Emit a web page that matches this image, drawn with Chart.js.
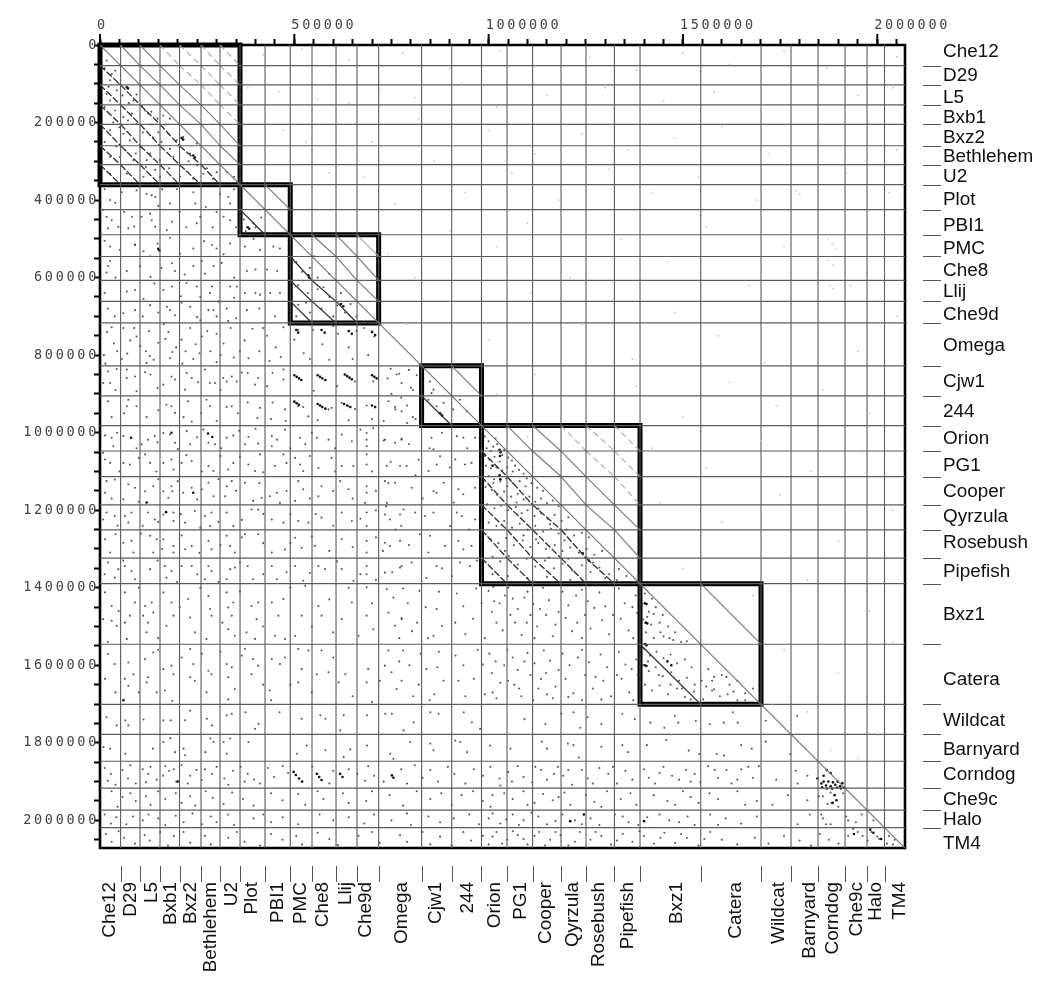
<!DOCTYPE html>
<html>
<head>
<meta charset="utf-8">
<title>Dot plot</title>
<script src="https://cdn.jsdelivr.net/npm/chart.js@4"></script>
<style>
  body { margin: 0; background: #fff; }
  canvas { display: block; }
</style>
</head>
<body>
<canvas id="chart" width="1050" height="983"></canvas>
<script>
const genomes = ["Che12","D29","L5","Bxb1","Bxz2","Bethlehem","U2","Plot","PBI1","PMC","Che8","Llij","Che9d","Omega","Cjw1","244","Orion","PG1","Cooper","Qyrzula","Rosebush","Pipefish","Bxz1","Catera","Wildcat","Barnyard","Corndog","Che9c","Halo","TM4"]

// end of each genome along the concatenated sequence, in bp
const genomeEnds = [53000,102900,154400,204600,259900,308800,360300,424600,489500,545500,607300,661300,717000,827500,905000,981600,1047300,1113100,1186200,1250500,1323600,1389500,1545700,1700800,1778000,1847500,1917000,1973600,2018600,2071300]

// first and last genome index of each boxed cluster
const clusters = [[0,6],[7,8],[9,12],[14,15],[16,21],[22,23]]

const xTickStep = 50000
const yTickStep = 50000
const xLabelEvery = 500000
const yLabelEvery = 200000

// the dots below are flat x,y pairs in kb
const dotsClusterA = [17,40,39,66,26,91,43,117,69,109,86,143,116,169,124,177,163,182,180,190,82,177,17,126,26,143,39,169,60,186,94,203,26,220,60,229,77,246,103,263,129,280,176,229,197,246,214,237,249,254,26,289,51,289,86,297,120,297,154,297,189,289,232,280,300,328,326,328,266,332,26,332,69,332,112,340,154,340,206,340,12,60,30,75,48,100,22,108,58,130,74,150,94,128,108,158,132,172,148,190,170,205,12,160,34,200,50,212,72,195,110,225,136,238,158,250,180,268,205,262,228,300,250,310,275,318,12,250,42,262,66,272,92,280,118,315,142,322,178,318,240,345,290,345,345,340,130,205,150,225]
const dotsClusterBCD = [380,470,370,450,400,470,415,445,375,480,395,460,505,560,520,585,540,575,560,600,590,590,510,620,535,640,560,630,590,650,620,640,510,670,540,690,570,680,600,700,630,690,660,700,505,700,530,665,550,545,575,625,610,672,645,668,849,868,858,889,845,915,866,932,884,923,909,940,926,915,944,945,875,949,853,898,776,872,800,884,805,890,775,910,790,930,805,960,812,965,790,975,740,860,750,900,760,940,730,970,748,835,770,848,815,852,795,838]
const dotsPlotRows = [26,400,39,407,17,443,30,452,21,473,47,469,73,473,82,443,94,375,120,384,133,388,142,392,107,443,129,435,133,452,142,469,180,409,185,456,172,478,245,409,249,460,258,443,309,384,330,392,335,409,318,443,335,452,12,372,160,372,205,430,240,380,290,470,350,470,62,430,272,418,8,425,56,380,88,468,150,415,198,372,222,470,300,430,345,372]
const dotsPmcRows = [26,520,90,515,180,497,240,525,288,516,300,525,335,512,373,520,412,529,446,520,463,525,51,529,90,516,21,570,26,557,17,587,69,583,103,570,129,545,185,563,193,583,240,570,262,557,292,570,313,562,378,583,400,579,430,579,456,583,69,636,90,632,163,632,185,623,223,614,249,623,288,623,283,640,335,623,352,623,373,640,412,644,438,640,463,640,60,692,90,684,129,671,172,675,193,697,232,675,279,684,292,684,326,680,378,684,180,684,258,710,38,700,330,712,12,505,112,532,148,512,206,538,268,506,318,540,40,600,130,598,158,575,218,592,270,590,345,600,395,500,12,640,112,655,140,615,208,648,258,650,305,662,345,652,400,640,20,680,110,700,150,690,210,665,250,702,300,700,350,705,410,680,450,700]
const dotsOmegaRows = [18,740,36,770,10,800,60,730,78,762,56,810,94,752,118,790,126,738,150,768,138,812,176,740,196,780,210,760,180,808,232,730,246,772,262,752,240,810,284,790,300,745,318,770,336,730,344,806,372,762,392,732,410,790,430,750,452,780,436,815,472,728,500,760,524,795,548,735,572,772,590,812,612,745,640,780,660,738,690,800,706,752,14,822,120,820,212,822,300,818,30,728,44,790,70,796,88,730,104,776,128,802,164,720,168,758,186,792,220,790,256,795,276,738,310,800,360,790,382,808,420,730,465,805,510,735,540,810,600,725,650,810,680,730]
const dotsCjwRows = [20,842,43,836,8,872,26,872,69,837,69,859,90,855,94,893,116,844,184,855,193,863,163,876,223,846,236,859,219,889,270,837,283,872,296,872,326,868,339,855,352,868,317,859,380,846,407,859,399,876,444,846,472,837,472,863,656,868,703,868,763,850,20,919,73,915,94,932,69,932,184,932,171,928,193,949,227,919,274,915,283,932,326,934,339,932,380,922,412,936,444,922,476,940,510,932,523,934,536,958,570,932,588,940,596,936,622,923,639,932,656,939,686,930,742,919,759,934,776,945,120,960,236,972,405,962,560,968,700,965,40,890,130,850,148,885,252,870,310,890,365,845,430,880,550,892,610,880,30,960,62,950,150,942,215,960,260,950,300,970,355,950,440,965,478,970,640,968]
const dotsOrionRows = [13,1007,30,1013,34,1035,60,1009,107,1030,124,1018,141,1009,163,1001,180,1005,193,1026,223,996,232,1030,266,992,279,1026,296,1030,326,1013,343,1007,373,1030,382,1011,407,1028,442,1009,455,1018,476,992,442,1035,515,1013,528,1030,558,1013,588,1018,622,1005,648,1022,686,1001,686,1018,686,1035,703,988,733,1018,759,1026,776,1016,13,1069,26,1078,8,1052,60,1078,77,1082,116,1056,129,1078,163,1078,184,1069,189,1095,210,1078,236,1073,279,1086,292,1099,330,1095,343,1078,382,1082,412,1056,399,1099,450,1086,472,1056,502,1065,515,1082,523,1099,562,1091,596,1065,622,1086,652,1086,686,1056,686,1082,738,1086,772,1086,44,1000,94,1040,148,1025,200,1042,250,1012,312,1040,358,995,400,990,490,1040,545,1000,605,1040,670,992,50,1100,100,1065,145,1100,222,1058,262,1100,310,1060,360,1062,420,1102,480,1078,540,1060,605,1100,700,1100]
const dotsCooperRows = [17,1125,38,1121,13,1155,60,1172,73,1133,90,1142,116,1151,137,1138,163,1151,184,1138,186,1151,176,1168,214,1155,236,1142,262,1146,279,1129,292,1164,326,1138,339,1125,322,1164,373,1129,394,1176,416,1168,437,1164,455,1155,463,1181,510,1125,523,1146,502,1176,570,1138,562,1164,618,1125,639,1146,686,1138,686,1155,682,1181,733,1125,759,1129,738,1181,17,1206,8,1224,38,1215,64,1215,81,1206,73,1232,124,1206,141,1224,163,1211,189,1206,189,1228,219,1232,244,1202,270,1215,287,1206,283,1241,326,1206,343,1241,390,1198,407,1198,442,1224,472,1232,510,1228,536,1232,570,1219,622,1206,648,1228,686,1206,686,1241,733,1211,746,1224,772,1211,30,1170,100,1178,150,1120,200,1125,250,1172,305,1120,350,1150,410,1130,480,1150,540,1170,600,1150,650,1170,710,1150,45,1240,110,1240,150,1230,208,1210,258,1245,305,1230,365,1225,420,1210,490,1210,555,1210,600,1240,670,1222,710,1200]
const dotsRosebushRows = [13,1275,26,1309,60,1284,81,1279,86,1309,129,1266,146,1275,137,1309,163,1275,189,1292,189,1309,219,1301,236,1292,279,1279,287,1301,326,1266,335,1292,347,1309,373,1262,407,1262,442,1309,476,1301,502,1271,519,1297,553,1292,622,1275,686,1279,686,1309,733,1284,746,1292,772,1279,21,1335,47,1352,38,1374,64,1344,81,1357,90,1378,129,1352,167,1344,184,1357,171,1374,210,1344,236,1344,279,1344,287,1357,270,1378,335,1352,347,1348,326,1378,380,1344,394,1378,442,1344,455,1378,502,1344,523,1382,562,1344,579,1352,622,1352,652,1382,686,1344,686,1365,733,1361,772,1348,40,1262,105,1260,160,1300,210,1265,256,1310,310,1290,365,1270,420,1285,490,1285,545,1268,590,1305,650,1295,710,1270,12,1365,60,1330,148,1330,198,1385,250,1365,305,1385,360,1335,420,1365,480,1360,540,1362,610,1332,670,1365,710,1380]
const dotsBxz1Row = [13,1412,30,1447,8,1481,30,1485,43,1498,64,1412,90,1438,77,1472,64,1490,69,1532,116,1447,133,1438,111,1472,124,1490,137,1464,120,1515,163,1412,184,1438,189,1472,171,1498,227,1429,232,1477,244,1515,279,1421,283,1455,287,1472,274,1532,326,1412,330,1451,343,1438,339,1472,330,1507,347,1524,390,1447,407,1438,403,1481,377,1515,399,1532,442,1438,472,1429,459,1472,450,1524,476,1532,528,1395,519,1472,502,1524,570,1472,562,1447,600,1515,648,1438,622,1481,665,1524,686,1399,686,1472,703,1507,738,1404,755,1425,742,1464,759,1498,776,1481,20,1540,48,1460,100,1400,150,1530,205,1450,258,1400,315,1490,360,1410,420,1500,490,1400,545,1500,590,1430,640,1400,700,1440,770,1530]
const dotsCateraRow = [21,1571,38,1597,13,1635,73,1593,64,1635,86,1623,73,1653,116,1584,137,1567,124,1631,120,1644,146,1670,163,1610,184,1601,189,1623,167,1665,232,1558,240,1597,232,1631,244,1640,279,1614,287,1623,274,1670,326,1597,339,1605,330,1631,347,1661,373,1558,394,1584,407,1601,390,1623,442,1584,463,1597,476,1580,437,1665,510,1558,536,1562,519,1610,510,1644,570,1562,558,1623,588,1618,631,1623,614,1644,690,1610,686,1644,742,1562,733,1601,750,1618,763,1661,330,1688,60,1690,186,1692,440,1690,700,1695,40,1670,100,1670,150,1560,210,1580,262,1570,310,1565,365,1575,420,1650,490,1650,545,1670,600,1580,650,1680,720,1640,770,1590]
const dotsClusterERows = [776,1018,789,1086,802,1142,781,1198,811,1206,853,1013,858,1043,866,1082,845,1099,858,1151,866,1155,836,1215,858,1206,849,1266,845,1309,866,1344,776,1344,802,1335,918,1009,935,1013,914,1069,939,1082,922,1146,935,1159,918,1206,931,1215,922,1279,935,1301,926,1335,965,1013,956,1078,965,1142,965,1224,956,1292,952,1344,875,1061,884,1129,888,1292,901,1241,823,1262,730,1020,748,1075,742,1130,736,1190,760,1250,728,1305,752,1360,795,1030,812,1110,830,1170,848,1040,880,1000,900,1090,945,1040,910,1180,950,1250,880,1350,795,1290,775,1240,820,1070,970,1330,905,1370,840,1375]
const dotsClusterE = [990,1010,1000,1022,995,1040,1005,1048,1012,1036,1022,1030,1030,1052,990,1060,1002,1070,1015,1062,1028,1075,1040,1045,1050,1064,1060,1072,993,1085,1006,1092,1020,1090,1035,1098,1048,1090,1062,1100,1078,1096,1090,1106,1000,1112,1014,1120,1030,1125,1045,1118,1062,1130,1080,1125,1095,1138,1110,1130,1125,1142,1140,1150,992,1140,1008,1148,1022,1160,1040,1152,1058,1165,1075,1158,1090,1172,1105,1165,1120,1178,1135,1170,1150,1182,1165,1175,1180,1190,996,1185,1015,1195,1032,1188,1050,1200,1070,1192,1085,1208,1100,1200,1118,1215,1135,1208,1152,1222,1170,1212,1188,1228,1205,1218,1000,1232,1020,1240,1040,1228,1060,1245,1080,1235,1100,1250,1120,1240,1140,1255,1160,1248,1180,1260,1200,1250,1220,1265,1240,1258,1258,1270,1005,1275,1025,1285,1045,1272,1065,1290,1088,1278,1108,1295,1128,1285,1148,1300,1170,1290,1190,1305,1210,1296,1232,1310,1252,1300,1272,1315,1292,1305,1010,1320,1030,1332,1052,1318,1075,1340,1098,1325,1120,1345,1145,1330,1168,1350,1190,1338,1215,1355,1240,1342,1262,1360,1285,1348,1310,1365,1335,1352,1355,1370,1018,1015,1035,1058,1068,1085,1098,1118,1012,1130,1048,1138,1072,1180,1128,1196,1158,1236,1090,1265,1122,1275,1195,1278,1042,1305,1155,1322,1205,1325,1268,1335,1300,1375,1330,1380,1100,1375,1050,1370,1010,1365,1150,1372,1210,1380,1260,1385]
const dotsBelowE = [780,1402,792,1440,776,1478,803,1512,822,1408,838,1450,816,1490,844,1530,872,1410,866,1455,880,1498,858,1524,918,1415,935,1448,914,1490,940,1520,968,1402,982,1440,960,1480,990,1530,1000,1408,1014,1435,1008,1462,1028,1440,1020,1490,1036,1510,1050,1400,1062,1428,1075,1455,1068,1490,1085,1522,1100,1410,1115,1442,1108,1470,1125,1500,1118,1530,1140,1400,1155,1432,1148,1470,1172,1495,1165,1525,1190,1410,1205,1445,1198,1478,1215,1512,1240,1405,1255,1435,1248,1470,1262,1505,1240,1530,1285,1412,1300,1448,1292,1484,1310,1520,1335,1402,1350,1440,1340,1480,1360,1510,1378,1420,1382,1465,1372,1530,780,1562,796,1600,776,1640,806,1680,825,1570,840,1610,820,1650,848,1690,872,1565,868,1605,884,1640,860,1675,915,1575,935,1600,922,1640,940,1680,972,1560,985,1598,962,1635,990,1675,1002,1570,1018,1590,1008,1620,1030,1645,1020,1685,1048,1560,1062,1580,1075,1612,1066,1650,1084,1680,1100,1568,1118,1595,1108,1625,1128,1660,1115,1690,1142,1562,1158,1588,1148,1620,1172,1655,1165,1685,1190,1570,1208,1600,1198,1635,1218,1672,1240,1560,1258,1592,1248,1625,1268,1660,1240,1690,1288,1572,1305,1605,1295,1640,1315,1680,1335,1565,1352,1598,1342,1635,1362,1670,1380,1585,1384,1625,1372,1690,1012,1398,1042,1420,1056,1470,1092,1425,1098,1490,1132,1455,1180,1462,1225,1420,1228,1490,1272,1452,1320,1470,1370,1450,1040,1600,1050,1640,1092,1590,1135,1635,1180,1612,1230,1580,1275,1630,1330,1625,1368,1610,1010,1670,1078,1660,1150,1675,1205,1682,1290,1688]
const dotsClusterF = [1402,1415,1420,1428,1395,1442,1412,1462,1430,1450,1448,1470,1398,1482,1418,1495,1440,1490,1462,1500,1480,1515,1405,1515,1425,1530,1450,1525,1475,1535,1495,1540,1400,1558,1415,1575,1432,1565,1450,1582,1468,1572,1485,1595,1505,1585,1522,1605,1398,1600,1412,1615,1430,1605,1448,1628,1470,1618,1490,1640,1510,1632,1530,1650,1548,1640,1402,1650,1420,1665,1440,1652,1462,1675,1485,1660,1505,1682,1528,1668,1552,1688,1565,1610,1580,1630,1600,1625,1620,1650,1640,1640,1660,1672,1680,1660,1575,1665,1595,1680,1615,1675,1640,1690,1560,1655,1408,1475,1425,1468,1442,1515,1465,1530,1510,1538,1410,1590,1438,1625,1468,1650,1498,1660,1520,1688,1580,1662,1612,1630,1630,1668,1660,1690,1575,1640]
const dotsWildcatRows = [17,1734,43,1755,65,1742,73,1755,112,1740,163,1742,182,1742,219,1742,232,1717,275,1738,288,1755,326,1729,339,1725,374,1721,408,1751,399,1764,462,1721,519,1738,567,1729,580,1738,627,1729,618,1768,687,1729,734,1725,751,1725,807,1747,781,1768,850,1721,871,1725,936,1721,957,1747,978,1764,1092,1739,1146,1752,1187,1725,1218,1721,1236,1761,1254,1734,1290,1752,1344,1725,1376,1739,1416,1748,1452,1761,1488,1748,1479,1730,1533,1743,1569,1752,1605,1748,1628,1721,1641,1748,1713,1743,1794,1730,9,1811,26,1815,65,1828,136,1815,163,1798,181,1788,193,1824,215,1815,219,1832,284,1789,271,1824,292,1798,318,1798,335,1789,326,1828,382,1798,532,1807,507,1828,580,1819,627,1837,644,1817,687,1807,747,1828,755,1841,798,1798,850,1802,858,1819,914,1794,927,1798,944,1824,1004,1807,1056,1815,1137,1797,1150,1815,1204,1802,1218,1806,1232,1838,1290,1810,1344,1806,1358,1824,1407,1806,1457,1793,1515,1820,1542,1829,1587,1829,1605,1833,1650,1806,1677,1815,1713,1797,1776,1829]
const dotsCorndogRow = [12,1865,28,1880,20,1898,40,1908,58,1870,78,1858,72,1892,92,1905,110,1868,124,1880,130,1862,118,1902,146,1895,168,1860,162,1885,178,1872,196,1900,190,1868,210,1858,232,1885,226,1905,248,1870,270,1868,262,1896,288,1880,300,1862,320,1892,342,1872,330,1908,362,1862,380,1880,396,1895,372,1900,432,1865,448,1888,412,1905,470,1860,484,1878,546,1862,600,1872,590,1905,640,1868,662,1880,690,1860,682,1898,705,1885,730,1900,775,1868,790,1905,810,1858,830,1890,850,1870,870,1900,895,1862,912,1880,940,1905,962,1868,985,1885,1005,1862,1028,1892,1050,1875,1075,1860,1090,1888,1112,1902,1135,1870,1150,1895,1178,1862,1192,1885,1215,1908,1240,1870,1255,1892,1285,1865,1308,1880,1330,1905,1352,1872,1400,1868,1412,1890,1428,1905,1450,1862,1472,1885,1490,1895,1508,1870,1530,1880,1545,1902,1565,1860,1590,1890,1612,1870,1625,1905,1650,1868,1680,1890,1695,1860,1740,1895,1790,1872,1795,1905,1030,1910,1060,1900,1120,1862,1168,1880,1205,1870,1268,1905,1320,1862,1370,1895,1440,1878,1520,1900,1582,1870,1640,1895,1668,1862,1820,1885]
const dotsChe9cRow = [30,1925,58,1940,45,1965,78,1930,92,1950,118,1938,130,1960,150,1925,168,1945,195,1930,210,1955,232,1938,245,1962,272,1925,290,1942,318,1958,340,1928,368,1945,395,1962,440,1930,470,1948,510,1932,528,1960,560,1925,575,1945,625,1930,640,1955,685,1950,700,1925,745,1935,780,1962,815,1925,850,1945,878,1930,905,1960,930,1935,960,1925,985,1950,1005,1965,1040,1930,1062,1945,1090,1925,1118,1955,1140,1932,1165,1948,1195,1928,1210,1960,1250,1935,1272,1952,1305,1925,1340,1945,1380,1960,1425,1935,1460,1950,1500,1925,1540,1955,1568,1930,1590,1945,1640,1925,1690,1950,1730,1960,1770,1935,1820,1948,1860,1938,1872,1958,1880,1928,1010,1935,1100,1960,1180,1940,1290,1965,1365,1930,1480,1960,1520,1940,1660,1960]
const dotsHaloRow = [12,1985,42,1992,28,2008,85,1990,68,2010,110,2000,125,1985,150,1995,168,2012,195,1988,215,2005,238,1982,262,2010,285,1990,300,2005,330,1985,345,2012,395,1995,420,1985,440,2005,470,1992,510,2010,565,1985,600,2000,640,1992,680,2008,705,1985,750,2000,790,1982,800,2012,845,1990,875,2005,910,1995,950,1985,975,2010,1000,1995,1030,2008,1062,1985,1090,2000,1128,1990,1150,2010,1190,1985,1222,2000,1262,1995,1285,2012,1325,1985,1360,2005,1408,1992,1440,1985,1490,2005,1530,2012,1570,1985,1610,1995,1650,2008,1690,1990,1795,2010,1826,1985,1860,1995,1880,2010,1920,1990,1945,2005,1960,1985,1010,1982,1045,1998,1078,2012,1110,1980,1172,2002,1240,2010,1345,1990,1385,2012,1465,2000,1512,1990,1590,2012]
const dotsTm4Row = [15,2035,30,2055,48,2028,62,2045,90,2060,115,2038,128,2052,155,2030,175,2065,190,2040,215,2030,232,2058,270,2040,285,2062,330,2045,352,2030,372,2055,412,2065,440,2035,470,2050,505,2040,520,2062,560,2032,590,2048,612,2064,665,2040,700,2030,720,2058,772,2038,790,2055,830,2030,850,2062,875,2042,905,2065,935,2030,955,2052,985,2040,1000,2062,1020,2030,1048,2050,1075,2038,1100,2062,1130,2030,1158,2050,1185,2038,1205,2065,1235,2030,1262,2050,1290,2040,1315,2062,1345,2035,1370,2055,1400,2040,1425,2060,1452,2032,1480,2058,1510,2045,1540,2065,1570,2030,1600,2050,1640,2062,1685,2045,1720,2060,1760,2040,1800,2052,1830,2065,1852,2035,1875,2050,1900,2060,1925,2040,1950,2030,1975,2052,2000,2042,2025,2060,2045,2050,1010,2042,1035,2060,1062,2028,1090,2048,1118,2040,1145,2065,1172,2030,1222,2055,1275,2030,1330,2052,1388,2028,1442,2045,1495,2035,1555,2048]
const dotsTail = [1850,1938,1856,1985,1868,2010,1882,1955,1900,1965,1912,1930,1925,2000,1938,2022,1962,2040,1985,2030,1990,2000,2005,2048,2030,2040,2040,2062]

// darker short pieces
const darkDots = [500,852,506,856,512,860,518,864,560,852,566,856,572,860,580,864,630,850,636,854,642,858,648,862,700,852,706,856,712,860,500,920,506,924,512,928,560,926,566,930,572,934,580,938,628,926,636,930,644,934,700,930,708,934,184,1000,278,1002,80,1013,289,1011,150,526,153,530,240,1155,170,1205,120,1180,60,1690,200,1900,498,1875,504,1883,512,1892,520,1900,558,1880,564,1888,570,1896,618,1880,624,1888,751,1884,755,1890,1028,1044,1031,1050,1029,1060,1028,1110,1030,1120,1010,1085,1242,1311,1250,1322,1258,1330,1402,1440,1406,1442,1404,1490,1408,1492,1402,1545,1406,1548,1402,1600,1406,1602,1460,1590,1470,1600,1856,1905,1862,1900,1868,1910,1874,1900,1880,1912,1886,1902,1892,1908,1898,1900,1904,1912,1910,1904,1914,1915,1858,1915,1870,1918,1884,1918,1896,1916,1906,1918,1862,1885,1880,1878,1846,1892,1870,1870,1890,1935,1895,1948,1885,1955,1940,2035,1982,2024,1990,2032,2010,2048,1210,2002,1245,1985,1400,2002,69,109,72,112,240,285,244,290,210,240,214,244,536,594,538,600,380,470,384,474,620,668,626,674,505,735,510,742,570,735,578,742,640,738,648,745,700,740,708,748,875,950,880,955]
// the very pale dots above the diagonal
const faintDots = [420,25,520,10,640,40,780,20,900,60,1030,15,1120,55,1260,30,1380,65,1500,20,1620,50,1760,15,1870,60,1975,40,2050,30,380,110,460,120,560,140,640,150,720,115,810,135,930,100,1020,160,1150,130,1300,110,1450,145,1580,120,1700,160,1850,100,1950,130,2040,110,470,220,530,250,610,200,700,250,820,190,910,260,1000,220,1120,280,1240,230,1360,270,1480,240,1600,210,1720,280,1850,240,1980,200,2050,270,590,330,680,340,760,410,860,300,940,380,1060,330,1180,400,1310,320,1420,380,1540,340,1690,400,1790,375,1800,385,1920,330,2030,380,660,470,740,540,810,600,900,480,1020,520,1100,460,1210,600,1340,500,1460,560,1560,470,1670,620,1760,520,1874,500,1884,512,1895,525,1874,555,1887,568,1878,620,1886,628,1931,620,2020,590,790,720,900,660,1000,760,1110,640,1240,720,1370,810,1480,690,1590,750,1710,820,1850,710,1950,790,2050,700,1020,900,1120,850,1250,940,1380,880,1500,960,1620,870,1740,930,1860,890,1980,950,1100,1010,1420,1040,1560,1090,1700,1020,1830,1100,1960,1050,1440,1180,1600,1230,1750,1160,1900,1280,2040,1200,1500,1350,1680,1420,1820,1380,1980,1460,1760,1560,1900,1620,2040,1540,1820,1720,2000,1780,1950,1840,1880,1820]

const lowerDots = [dotsClusterA,dotsClusterBCD,dotsPlotRows,dotsPmcRows,dotsOmegaRows,dotsCjwRows,dotsOrionRows,dotsCooperRows,dotsRosebushRows,dotsBxz1Row,dotsCateraRow,dotsClusterERows,dotsClusterE,dotsBelowE,dotsClusterF,dotsWildcatRows,dotsCorndogRow,dotsChe9cRow,dotsHaloRow,dotsTm4Row,dotsTail].flat()

const nameNudgeY = [-3,1,3,3,3,2,2,2.5,4,3,2,1,3,1,1,1,1,2,1,-1,-1,1,1,5,1,2,0,1,1,6]
const nameNudgeX = [-1,1,2,1,1,0,2,-.5,.5,0,-1,-.5,-2,1.5,-1,1,1,1,-1,-.5,-1,1,6,5,3,5.5,1.5,1,0,5]

const axisEnd = genomeEnds[genomeEnds.length - 1]
const genomeStart = i => i === 0 ? 0 : genomeEnds[i - 1]

function toPoints(flat) {
  const pts = []
  for (let i = 0; i < flat.length; i += 2) pts.push({ x: flat[i] * 1000, y: flat[i + 1] * 1000 })
  return pts
}

function lineSet(points, color, width, extra) {
  return Object.assign({ data: points, showLine: true, pointRadius: 0, borderColor: color, borderWidth: width }, extra)
}

function dotSet(flat, color, radius) {
  return { data: toPoints(flat), pointRadius: radius, pointBorderWidth: 0, backgroundColor: color, showLine: false }
}

// a stepSize close to the range makes Chart.js stretch the spacing, so the ticks are set here
function stepTicks(step) {
  return scale => {
    scale.ticks = []
    for (let v = 0; v <= axisEnd; v += step) scale.ticks.push({ value: v })
  }
}

const datasets = []

// faint ones go under everything else
datasets.push(dotSet(faintDots, "#c4c4c4", 0.9))

// genome boundaries
genomeEnds.slice(0, -1).forEach(end => {
  datasets.push(lineSet([{ x: end, y: 0 }, { x: end, y: axisEnd }], "#5c5c5c", 1.1))
  datasets.push(lineSet([{ x: 0, y: end }, { x: axisEnd, y: end }], "#5c5c5c", 1.2))
})

datasets.push(lineSet([{ x: 0, y: 0 }, { x: axisEnd, y: axisEnd }], "#777", 1.2))

// homology lines between genomes of the same cluster, corner to corner of each cell
clusters.forEach(([first, last], c) => {
  for (let col = first; col <= last; col++) {
    for (let row = first; row <= last; row++) {
      if (col === row) continue
      const lower = row > col
      const far = Math.abs(col - row)
      const broken = (c === 0 || c === 4) && (lower || far > 2)
      datasets.push(lineSet(
        [{ x: genomeStart(col), y: genomeStart(row) }, { x: genomeEnds[col], y: genomeEnds[row] }],
        lower ? "#2e2e2e" : (far > 2 ? "#a8a8a8" : "#777"),
        lower ? 1.3 : 1.1,
        broken ? { borderDash: lower ? [7, 2] : [6, 4] } : {}
      ))
    }
  }
})

datasets.push(dotSet(lowerDots, "rgba(50,50,50,0.8)", 1.05))
datasets.push(dotSet(darkDots, "#111", 1.3))

// thick boxes round the clusters
clusters.forEach(([first, last]) => {
  const a = genomeStart(first), b = genomeEnds[last]
  datasets.push(lineSet(
    [{ x: a, y: a }, { x: b, y: a }, { x: b, y: b }, { x: a, y: b }, { x: a, y: a }],
    "#000", 5, { clip: false, borderJoinStyle: "miter", borderCapStyle: "square" }
  ))
})

// outer frame
datasets.push(lineSet(
  [{ x: 0, y: 0 }, { x: axisEnd, y: 0 }, { x: axisEnd, y: axisEnd }, { x: 0, y: axisEnd }, { x: 0, y: 0 }],
  "#000", 2.6, { clip: false, borderJoinStyle: "miter" }
))

// Chart.js has one tick length per axis, so the long ones and the names are added here
const axisExtras = {
  id: "axisExtras",
  beforeDraw(chart) {
    chart.ctx.letterSpacing = "2.7px"
  },
  afterDraw(chart) {
    const ctx = chart.ctx
    const xs = chart.scales.x, ys = chart.scales.y
    const area = chart.chartArea
    ctx.save()
    ctx.letterSpacing = "0px"

    ctx.strokeStyle = "#000"
    ctx.lineWidth = 2
    for (let v = 0; v <= axisEnd; v += xLabelEvery) {
      ctx.beginPath()
      ctx.moveTo(xs.getPixelForValue(v), area.top)
      ctx.lineTo(xs.getPixelForValue(v), area.top - 11)
      ctx.stroke()
    }

    ctx.strokeStyle = "#555"
    ctx.lineWidth = 1
    genomeEnds.slice(0, -1).forEach(end => {
      const px = Math.round(xs.getPixelForValue(end)) + 0.5
      const py = Math.round(ys.getPixelForValue(end)) + 0.5
      ctx.beginPath()
      ctx.moveTo(px, 866)
      ctx.lineTo(px, 882)
      ctx.moveTo(923, py)
      ctx.lineTo(941, py)
      ctx.stroke()
    })

    ctx.fillStyle = "#111"
    ctx.font = '18.9px "Liberation Sans"'
    genomes.forEach((name, i) => {
      const mid = (genomeStart(i) + genomeEnds[i]) / 2
      ctx.textAlign = "left"
      ctx.textBaseline = "middle"
      ctx.fillText(name, 943, ys.getPixelForValue(mid) + nameNudgeY[i])

      ctx.save()
      ctx.translate(xs.getPixelForValue(mid) + nameNudgeX[i], 882)
      ctx.rotate(-Math.PI / 2)
      ctx.textAlign = "right"
      ctx.fillText(name, 0, 0)
      ctx.restore()
    })
    ctx.restore()
  }
}

const tickFont = { family: '"DejaVu Sans Mono"', size: 13.5 }

new Chart(document.getElementById("chart"), {
  type: "scatter",
  data: { datasets },
  plugins: [axisExtras],
  options: {
    responsive: false,
    animation: false,
    devicePixelRatio: 1,
    layout: { padding: { top: 0, left: 0, right: 145, bottom: 135 } },
    plugins: { legend: { display: false }, tooltip: { enabled: false }, title: { display: false } },
    scales: {
      x: {
        type: "linear",
        position: "top",
        min: 0,
        max: axisEnd,
        afterBuildTicks: stepTicks(xTickStep),
        afterFit: s => { s.height = 45 },
        border: { display: false },
        grid: { drawOnChartArea: false, tickLength: 6, tickWidth: 2, tickColor: "#000" },
        ticks: {
          autoSkip: false,
          maxRotation: 0,
          minRotation: 0,
          align: "start",
          labelOffset: -3,
          padding: 5,
          color: "#444",
          font: tickFont,
          callback: v => v % xLabelEvery === 0 ? String(v) : ""
        }
      },
      y: {
        type: "linear",
        position: "left",
        reverse: true,
        min: 0,
        max: axisEnd,
        afterBuildTicks: stepTicks(yTickStep),
        afterFit: s => { s.width = 100 },
        border: { display: false },
        grid: { drawOnChartArea: false, tickLength: 6, tickWidth: 2, tickColor: "#000" },
        ticks: {
          autoSkip: false,
          padding: -5,
          color: "#444",
          font: tickFont,
          callback: v => v % yLabelEvery === 0 ? String(v) : ""
        }
      }
    }
  }
})
</script>
</body>
</html>
